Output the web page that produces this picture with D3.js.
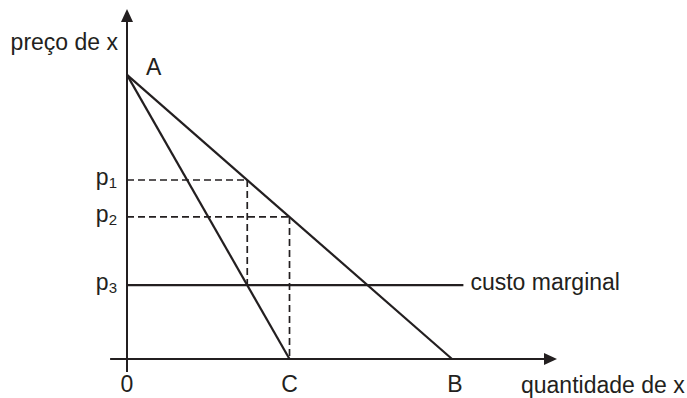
<!DOCTYPE html>
<html><head><meta charset="utf-8">
<script src="https://cdn.jsdelivr.net/npm/d3@7"></script>
<style>
html,body{margin:0;padding:0;background:#fff;}
svg{display:block;}
text{font-family:"Liberation Sans",Arial,sans-serif;fill:#231f20;}
</style></head>
<body>
<svg id="chart" width="687" height="398"></svg>
<script>
// ---- data (model units) ----
const qMax = 13.23;          // end of quantity axis
const pMax = 12.32;          // end of price axis
const demand = [{q:0,p:10},{q:10,p:0}];            // A -> B
const marginalRevenue = [{q:0,p:10},{q:5,p:0}];    // A -> C
const marginalCost = [{q:0,p:2.6},{q:10.35,p:2.6}];
const priceNames = ["1","2","3"];
const priceValues = [6.3, 5, 2.6];
const guideQuantities = [3.7, 5];                  // vertical dashed guides
const guideFloors = [2.6, 0];                      // where vertical guides stop
const pointNames = ["A","C","B","0"];
const pointQ = [0, 5, 10, 0];
const pointP = [10, 0, 0, 0];
const axisTitles = ["preço de x","quantidade de x"];
const mcLabel = "custo marginal";

const svg = d3.select("#chart");
const x = d3.scaleLinear().domain([0,qMax]).range([127,557]);
const y = d3.scaleLinear().domain([0,pMax]).range([359,9]);
const ink = "#231f20";
const line = d3.line().x(d=>x(d.q)).y(d=>y(d.p));

// axes
svg.append("line").attr("x1",x(0)).attr("x2",x(qMax)-8).attr("y1",y(0)).attr("y2",y(0))
  .attr("stroke",ink).attr("stroke-width",2);
svg.append("line").attr("x1",x(-0.52)).attr("x2",x(0)).attr("y1",y(0)).attr("y2",y(0))
  .attr("stroke",ink).attr("stroke-width",2);
svg.append("line").attr("x1",x(0)).attr("x2",x(0)).attr("y1",y(0)+13).attr("y2",y(pMax)+8)
  .attr("stroke",ink).attr("stroke-width",2);
// arrow heads
svg.append("path").attr("fill",ink)
  .attr("d",`M${x(qMax)},${y(0)} L${x(qMax)-13},${y(0)-6} L${x(qMax)-13},${y(0)+6} Z`);
svg.append("path").attr("fill",ink)
  .attr("d",`M${x(0)},${y(pMax)} L${x(0)-6},${y(pMax)+13} L${x(0)+6},${y(pMax)+13} Z`);

// dashed guides
priceValues.slice(0,2).forEach((p,i)=>{
  const q = guideQuantities[i];
  svg.append("line").attr("x1",x(0)).attr("x2",x(q)).attr("y1",y(p)).attr("y2",y(p))
    .attr("stroke",ink).attr("stroke-width",1.7).attr("stroke-dasharray","7,4");
  svg.append("line").attr("x1",x(q)).attr("x2",x(q)).attr("y1",y(p)).attr("y2",y(guideFloors[i]))
    .attr("stroke",ink).attr("stroke-width",1.7).attr("stroke-dasharray","7,4");
});

// curves
[demand, marginalRevenue, marginalCost].forEach(d=>{
  svg.append("path").attr("d",line(d)).attr("fill","none")
    .attr("stroke",ink).attr("stroke-width",2.2);
});

const fs = 23;
// price labels
priceValues.forEach((p,i)=>{
  const t = svg.append("text").attr("x",x(0)-10).attr("y",y(p)+5)
    .attr("text-anchor","end").attr("font-size",fs);
  t.append("tspan").text("p");
  t.append("tspan").attr("font-size",15).attr("dy",3).text(priceNames[i]);
});

// point labels
svg.append("text").attr("x",x(pointQ[0])+19).attr("y",y(pointP[0])).attr("font-size",fs).text(pointNames[0]);
[1,2,3].forEach(i=>{
  svg.append("text").attr("x",x(pointQ[i])+(i===2?3:0)).attr("y",y(pointP[i])+33)
    .attr("text-anchor","middle").attr("font-size",fs).text(pointNames[i]);
});

// axis titles
svg.append("text").attr("x",x(0)-9).attr("y",50).attr("text-anchor","end")
  .attr("font-size",fs).text(axisTitles[0]);
svg.append("text").attr("x",521).attr("y",y(0)+34)
  .attr("font-size",fs).text(axisTitles[1]);
svg.append("text").attr("x",x(marginalCost[1].q)+7).attr("y",y(marginalCost[1].p)+5)
  .attr("font-size",fs).text(mcLabel);
</script>
</body></html>
